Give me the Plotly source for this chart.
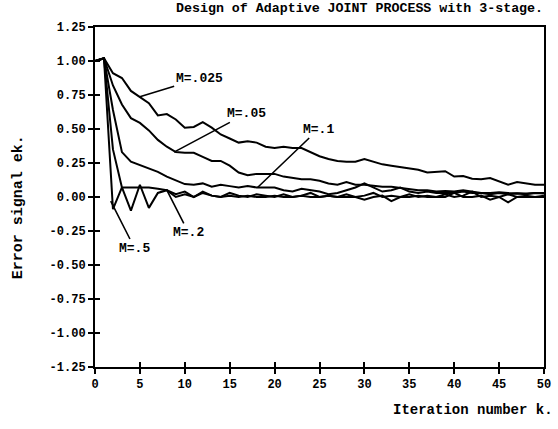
import plotly.graph_objects as go

k = list(range(0, 51))

m025 = [1.00, 1.02, 0.91, 0.875, 0.78, 0.735, 0.69, 0.60, 0.61, 0.57,
        0.51, 0.515, 0.55, 0.51, 0.46, 0.43, 0.40, 0.41, 0.40, 0.37,
        0.36, 0.37, 0.36, 0.36, 0.33, 0.30, 0.28, 0.265, 0.26, 0.26,
        0.28, 0.26, 0.24, 0.23, 0.22, 0.21, 0.20, 0.18, 0.185, 0.19,
        0.15, 0.155, 0.135, 0.13, 0.14, 0.115, 0.09, 0.11, 0.10, 0.09,
        0.09]
m05 = [1.00, 1.02, 0.82, 0.68, 0.58, 0.545, 0.49, 0.42, 0.37, 0.33,
       0.325, 0.325, 0.295, 0.265, 0.265, 0.23, 0.18, 0.16, 0.17, 0.17,
       0.17, 0.15, 0.14, 0.13, 0.13, 0.12, 0.10, 0.09, 0.11, 0.09,
       0.09, 0.08, 0.075, 0.075, 0.065, 0.055, 0.05, 0.05, 0.04, 0.045,
       0.04, 0.05, 0.04, 0.03, 0.03, 0.035, 0.03, 0.025, 0.025, 0.03,
       0.03]
m1 = [1.00, 1.02, 0.64, 0.33, 0.26, 0.235, 0.21, 0.185, 0.15, 0.12,
      0.095, 0.09, 0.10, 0.075, 0.09, 0.08, 0.07, 0.08, 0.07, 0.07,
      0.07, 0.05, 0.04, 0.06, 0.05, 0.04, 0.02, 0.03, 0.05, 0.07,
      0.10, 0.07, 0.04, 0.05, 0.07, 0.04, 0.03, 0.04, 0.03, 0.03,
      0.03, 0.04, 0.03, 0.03, 0.02, 0.03, 0.02, 0.025, 0.02, 0.03,
      0.025]
m2 = [1.00, 1.02, 0.35, 0.07, 0.07, 0.07, 0.07, 0.06, 0.05, 0.02,
      0.04, 0.00, 0.03, 0.01, 0.00, 0.03, 0.01, 0.00, 0.02, 0.01,
      0.00, 0.02, 0.00, 0.01, 0.03, 0.00, 0.01, 0.00, 0.02, 0.00,
      0.01, 0.03, 0.00, 0.01, 0.00, 0.02, 0.00, 0.01, 0.00, 0.02,
      0.00, 0.01, 0.04, 0.00, 0.01, 0.00, 0.02, 0.00, 0.01, 0.00,
      0.01]
m5 = [1.00, 1.02, -0.09, 0.07, -0.10, 0.09, -0.08, 0.03, 0.05, 0.00,
      0.02, 0.00, 0.04, 0.01, 0.00, 0.01, 0.00, 0.01, 0.00, 0.00,
      0.01, 0.00, 0.00, 0.01, 0.00, 0.00, 0.01, 0.00, 0.00, 0.00,
      -0.02, 0.00, 0.01, -0.03, 0.00, 0.00, 0.01, 0.00, 0.00, 0.00,
      0.03, 0.00, 0.00, 0.01, -0.02, 0.00, -0.04, 0.00, 0.00, 0.00,
      0.00]

series = [("M=.025", m025), ("M=.05", m05), ("M=.1", m1), ("M=.2", m2), ("M=.5", m5)]

ytickvals = [1.25, 1.0, 0.75, 0.5, 0.25, 0.0, -0.25, -0.5, -0.75, -1.0, -1.25]
yticktext = ["<b>1.25</b>", "<b>1.00</b>", "<b>0.75</b>", "<b>0.50</b>", "<b>0.25</b>",
             "<b>0.00</b>", "<b>-0.25</b>", "<b>-0.50</b>", "<b>-0.75</b>",
             "<b>-1.00</b>", "<b>-1.25</b>"]
xtickvals = [0, 5, 10, 15, 20, 25, 30, 35, 40, 45, 50]
xticktext = ["<b>%d</b>" % v for v in xtickvals]

# label text positions (ax, ay) and pointer tips (x, y) in data units
labels = [
    ("M=.025", 11.6, 0.87, 4.9, 0.735),
    ("M=.05", 16.9, 0.615, 8.8, 0.33),
    ("M=.1", 24.9, 0.50, 18.1, 0.07),
    ("M=.2", 10.4, -0.26, 8.0, 0.05),
    ("M=.5", 4.4, -0.375, 1.75, -0.03),
]

MONO = "Liberation Mono, Courier New, monospace"

fig = go.Figure()
for name, vals in series:
    fig.add_trace(go.Scatter(x=k, y=vals, mode="lines", name=name,
                             line=dict(color="black", width=2),
                             showlegend=False, hoverinfo="skip"))
# dummy trace to materialize the overlay axes (inner half of "+" ticks)
fig.add_trace(go.Scatter(x=[None], y=[None], xaxis="x2", yaxis="y2",
                         showlegend=False, hoverinfo="skip"))

for text, ax_, ay_, x_, y_ in labels:
    fig.add_annotation(x=x_, y=y_, ax=ax_, ay=ay_, xref="x", yref="y",
                       axref="x", ayref="y", text="<b>" + text + "</b>", showarrow=True,
                       arrowhead=0, arrowwidth=1.6, arrowcolor="black",
                       standoff=0, startstandoff=0,
                       font=dict(family=MONO, size=13, color="black"))

fig.add_annotation(text="<b>Design of Adaptive JOINT PROCESS with 3-stage.</b>",
                   xref="paper", yref="paper", x=0.588, y=1.0, yshift=19,
                   xanchor="center", yanchor="middle", showarrow=False,
                   font=dict(family=MONO, size=13.3, color="black"))
fig.add_annotation(text="<b>Iteration number k.</b>",
                   xref="paper", yref="paper", x=1.0, xshift=11, y=0.0, yshift=-43,
                   xanchor="right", yanchor="middle", showarrow=False,
                   font=dict(family=MONO, size=14, color="black"))
fig.add_annotation(text="<b>Error signal ek.</b>",
                   xref="paper", yref="paper", x=0.0, xshift=-77, y=0.47,
                   xanchor="center", yanchor="middle", showarrow=False,
                   textangle=-90,
                   font=dict(family=MONO, size=15, color="black"))

tick_common = dict(showgrid=False, zeroline=False, ticklen=5, tickwidth=1.5,
                   tickcolor="black")

fig.update_layout(
    width=558, height=429,
    margin=dict(l=95, r=7, t=27, b=62),
    paper_bgcolor="white", plot_bgcolor="white",
    font=dict(family=MONO, color="black"),
    xaxis=dict(range=[0, 50], tickvals=xtickvals, ticktext=xticktext,
               ticks="outside", showline=True, mirror=True,
               linecolor="black", linewidth=2,
               tickfont=dict(family=MONO, size=12, color="black"),
               **tick_common),
    yaxis=dict(range=[-1.25, 1.25], tickvals=ytickvals, ticktext=yticktext,
               ticks="outside", showline=True, mirror=True,
               linecolor="black", linewidth=2,
               tickfont=dict(family=MONO, size=12, color="black"),
               **tick_common),
    xaxis2=dict(range=[0, 50], tickvals=xtickvals, ticks="inside",
                overlaying="x", side="bottom", showticklabels=False,
                showline=False, **tick_common),
    yaxis2=dict(range=[-1.25, 1.25], tickvals=ytickvals, ticks="inside",
                overlaying="y", side="left", showticklabels=False,
                showline=False, **tick_common),
)

fig.write_html("out.html")
